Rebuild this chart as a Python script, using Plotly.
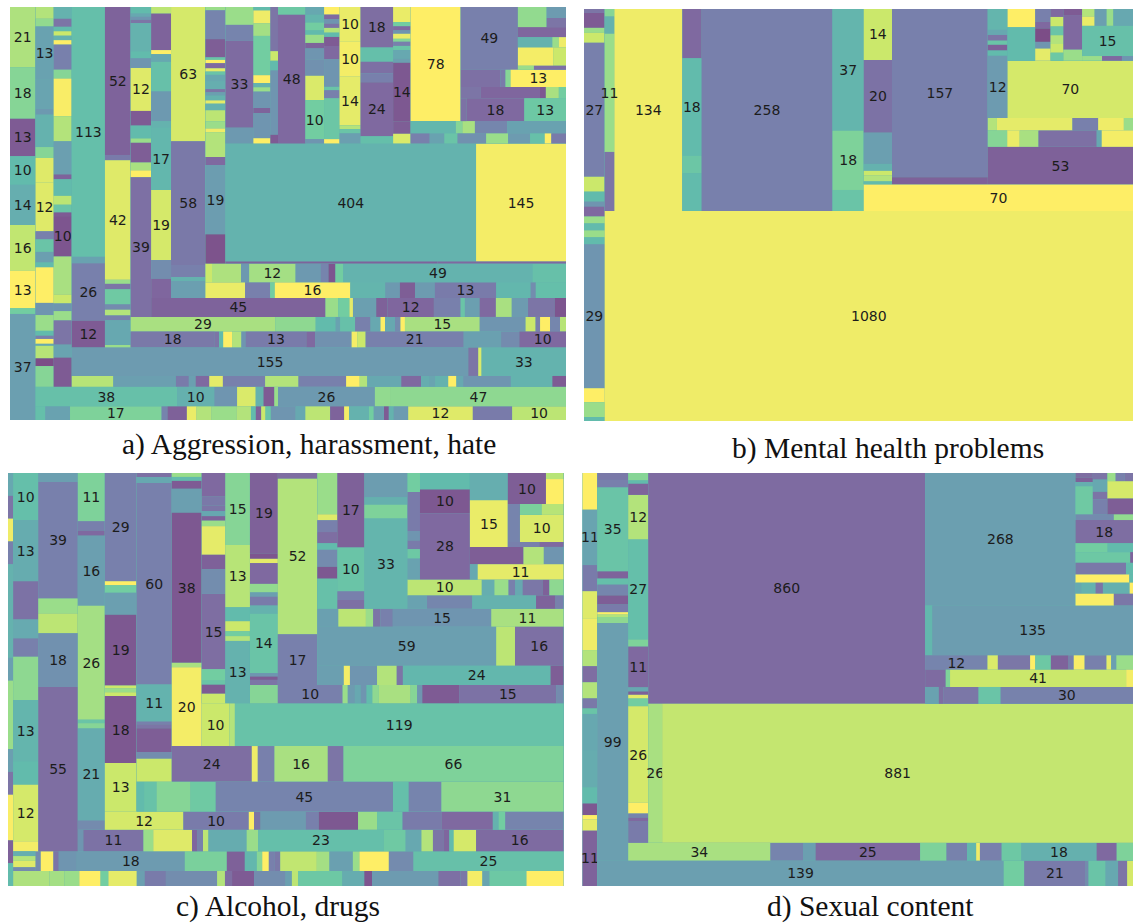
import plotly.graph_objects as go

# Every leaf is (value, colour index on the 0-9 palette). A list holds its
# children; nesting alternates between side-by-side and stacked.
# ---------------- a) Aggression, harassment, hate ----------------
A_COL0 = [(21,7.4),(18,6.5),(13,0.5),(10,5),(14,4.3),(16,7.8),(13,9),(2,6),(37,3.5)]
A_COL1 = [(2.9,7.5),(1.9,6.8),(13,3.7),(7.4,3.8),(1.4,3.2),(8,4.5),(2.7,6.5),(6.1,8.4),(12,8.4),(2,2),(3.1,5.5),(2.6,3.5),(1.2,5),(8.8,9),(3,3),(3.9,7),(1.2,5),(.8,2),(1.2,9),(.5,4),(3.1,7.6),(1.9,0),(5.1,6.5)]
A_COL2 = [(2.9,4.5),(2,1.5),(1.1,5),(1.1,8),(1.1,4.5),(1.1,9),(6.2,2),(2.2,6.5),(9.3,8.9),(6.2,7.5),(8.2,3.5),(1.2,.8),(4.1,5),(2.2,7.7),(1.9,5.5),(.9,.5),(10,.3),(9.4,7.3),(2.2,8),(1.9,3),(2.3,7),(6,1.5),(3.2,3.8),(7.2,.5)]
A_COL113 = [(113,5.2),(3,3.7),(26,2),(12,.5)]
A_COL52 = [(52,.8),(1.9,1.8),(42,8.4),(1.4,7),(1.9,1.5),(5.3,5.8),(1.9,2.5),(2,7.5),(1.7,2),(8.7,4),(.8,7)]
A_COL39 = [(1.8,5),(.9,4),(.9,3),(.9,1.5),(7.9,4.5),(1.9,5),(2.7,3),(12,8.4),(4.1,.5),(3.6,5),(1.2,7),(5.5,.6),(2.2,7.3),(1.9,9),(39,1.3)]
A_COL17 = [(1.8,7.7),(9.9,.8),(1.1,9),(2.1,4),(8,5.3),(8.1,3.2),(1.7,4.5),(17,4.8),(19,8.2),(5.1,2.6),(5.2,.9)]
A_COL63 = [(63,8.2),(58,1.7),(5.6,2),(1.9,4.5),(8,3.5)]
A_COL19 = [(.9,7),(7.9,2.2),(5,.6),(.7,5.5),(.9,9),(1.4,1),(.9,8.5),(.9,5.5),(1.8,4),(2.1,4.3),(.9,1.5),(.9,3.5),(1.3,4.5),(.9,8.5),(1.8,4.5),(3,7.7),(2,7),(1,8.7),(6.8,7.5),(2.2,1),(19,3.4),(8,.2)]
A_COL33 = [(6.8,7),(6.1,2.2),(33,1.1),(6,3.2)]
A_COL_B = [(.8,5),(3,8.7),(2.9,7.2),(9.1,6),(1.8,9),(1,4.5),(1,7),(3.8,3),(1.2,.8),(5.8,3),(1.2,9)]
A_COL_C = [(4.6,1.5),(1,8),(1,5),(6.7,3),(.9,.5)]
A_COL48 = [(2.9,5.7),(48,1)]
A_COL_D = [(2,4),(2,4.7),(2,6),(1.1,5),(2.1,7),(1.4,.8),(2.8,3),(4.2,2.8),(6.2,8.3),(10,6),(1.1,3)]
A_COL_E = [(1.6,9),(1,1),(.9,3),(.9,1.5),(1,7.5),(.9,5),(1.9,.5),(2.8,1),(5.8,3),(.7,5.5),(1.7,2),(8.6,5.6),(.9,9)]
A_COL_F = [(10,8.6),(10,8.8),(14,8.5),(1.1,7.5),(1.2,5.5),(2.9,3.5)]
A_COL_G = [(18,1.2),(6.3,5.2),(5.1,1.3),(4,2),(24,1),(3.2,5.2)]
A_COL_H = [(3.6,8.6),(1,6),(1,1),(.8,3),(1.2,8.6),(.7,6.5),(1,2),(1,5.5),(2.1,4),(.9,3.5),(14,.4),(3,.6),(2.3,8.3)]
A_BLOCK49 = [(49,2),[[(7.9,6.8),[(2.9,3.3),(2.4,1.5)]],(6.6,.9),[(4.8,4.5),(.9,7),(1,8.7)],[(8.8,8.8),(3.2,8)],[(.9,7),(1.8,1.3)]]]
A_ROW_T = [(9.3,1.3),(1.2,1.8),(1.2,6.5),(13,9)]
A_ROW_M = [(3.1,1.5),(9.1,.9),(.9,.4),(2,7.3),(1.1,6)]
A_ROW_L = [(1.8,1.4),(18,1),(13,5.7)]
A_ROW_N = [(7.6,4.8),(1.1,6.5),(2.1,7.3),(5.4,2.3),(9.9,3.7)]
A_ROW_O = [(2.6,2),(2,3.7),(1.8,5.5),(3.9,2.8),(3,7),(3,3.3),(2,5.3),(.9,9),(2,1.8)]
A_ROW_404 = [(404,4.6),(145,8.8)]
A_ROW_THIN = [(5.6,.8),(3.4,1)]
A_ROW12 = [(1.7,8),(7.5,7.4),(2.1,3.2),(12,7.2),(6.5,3.2),(2,2.2),(1.8,.3),(2,6),(49,4.6),(8.6,5.3)]
A_ROW16 = [(8.4,8.6),(5.3,2),(1,6),(16,9),(7.4,4.7),(3.1,3.2),(3.2,.6),(4.2,3.3),(13,1.8),(7.3,4.8),(1.1,2.6),(6.4,5.2)]
A_ROW45 = [(45,.8),(3.3,7),(2.9,6),(.9,8.5),(6,3.5),(2.9,.7),(12,.9),(6.9,2),(1.1,5.5),(3.8,3.5),(4.2,1),(4.1,7.3),(4.2,3.3),(6.9,1.5),(2.9,.3)]
A_ROW29 = [(29,7.3),(8.1,6.7),(4,5),(.9,3.7),(3,5.3),(3.1,2),(2,4),(.9,9),(2,4),(1.1,2.5),(.9,9),(15,7.3),(9.2,3),(2,8),(.9,2),(2,9),(2,2.3),(1.2,7.6)]
A_ROW18 = [(18,1.7),(.9,1.5),(.9,5),(1.9,9),(2,7.5),(.9,3),(13,1.8),(1.9,1),(7.8,2.8),(1.2,8.8),(1.8,8),(21,2),(8,3.6),(3.9,2.5),(10,1)]
A_ROW155 = [(155,3.3),(3.9,1.5),(1.3,8.3),(33,4.6)]
A_STRIP = [(6.1,7.6),(9.2,3.5),(1.9,1.8),(1,3.5),(2,1),(2,8.5),(6.2,2),(4.9,7.5),(7,2),(2,9),(1.1,7.5),(5,4),(2.9,1),(1.2,4.2),(.9,3.8),(1.9,4.5),(1.2,9),(1,4),(7,3),(6.1,4.6),(2,.5)]
A_ROW38 = [(38,5.3),(10,4.4),(6.1,3),(5,8.3),(2.1,4.5),(2.9,.5),(1,7),(26,3.2),(4.3,6.8),(47,6.7)]
A_ROW17 = [(1.8,5.2),(4.6,3.7),(17,6.3),(1.1,2.2),(3.6,.7),(1.8,8.6),(2.8,7.5),(4.6,7),(2.7,7.5),(.9,5),(1,.7),(.8,8),(1,5.5),(4.6,3),(1.8,4),(4.6,7.7),(2.6,.8),(.9,8.8),(3.7,4.5),(.9,6),(1.9,3.5),(.9,.5),(.9,4.5),(2.7,3.3),(12,8.4),(7.3,1.8),(10,7.7)]

A_RIGHT = [[(78,9),[A_BLOCK49,A_ROW_T,A_ROW_M,A_ROW_L]],A_ROW_N,A_ROW_O]
A_U = [A_COL33,A_COL_B,A_COL_C,A_COL48,A_COL_D,A_COL_E,A_COL_F,A_COL_G,A_COL_H,A_RIGHT]
A_T4 = [[A_COL19,[A_U,A_ROW_404,A_ROW_THIN]],A_ROW12,A_ROW16]
A_TOP = [A_COL39,[[A_COL17,A_COL63,A_T4],A_ROW45]]
A_MAIN = [A_COL113,A_COL52,[A_TOP,A_ROW29,A_ROW18]]
PANEL_A = [A_COL0,[[A_COL1,A_COL2,[A_MAIN,A_ROW155,A_STRIP]],A_ROW38,A_ROW17]]

# ---------------- b) Mental health problems ----------------
B_COL0 = [(.8,1.5),(3,.5),(1,7),(2,8),(27,2),(3,8),(2,5),(1,3),(2,1),(1.4,7),(1.4,5),(1.4,7),(1.4,5),(29,3),(2.8,9),(3,7),(.8,5)]
B_COL_A = [(.7,6.5),(1.6,4.5),(11,7),(5.5,1.5)]
B_COL_B = [(9.1,1),(18,5),(3.2,5.6),(7,5)]
B_COL_C = [(37,4.7),(18,6.3),(6.4,5.5)]
B_COL14 = [(14,8),(20,1.4),(8.6,3.5),(1.9,4.5),(1.3,8),(1.6,7.5),(.8,5)]
B_COL157 = [(157,2),(6.5,.7)]
B_COL12 = [(4,4.7),(1,4),(1.1,1.5),(.8,5.5),(1.1,.7),(1,5),(12,3.3)]
B_P1 = [(4.9,9),(9,5)]
B_P2 = [(1.9,2),(1,1),(2,0),(1,3),(1.8,8.5)]
B_P3 = [(1,1),(1.2,8),(1.1,5.5),(1.1,7.5),(1.1,8),(1,5.7)]
B_P4 = [(1.1,.5),(6.3,1),(2,7)]
B_Q_TOP = [[(.9,7.5),(1.1,8.6)],(2,3.5),(1.1,7),(3.2,4)]
B_Q_BOT = [(.9,7),(.9,1),(.5,3)]
B_ROW1 = [(1.1,7.5),(9.1,8.5),(3.1,2),(3.1,8.7),(1.1,7)]
B_ROW2 = [(3.1,6.5),(2,8.6),(3,7.3),(9.3,1.3),(.8,4),(5,8.8)]
B_P = [B_P1,B_P2,B_P3,B_P4,[B_Q_TOP,(15,5.3),B_Q_BOT]]
B_RIGHT = [[B_COL12,[B_P,(70,8.2)]],B_ROW1,B_ROW2,(53,.7)]
B_TOP = [B_COL_A,(134,8.7),B_COL_B,(258,2),B_COL_C,[[B_COL14,B_COL157,B_RIGHT],(70,9)]]
PANEL_B = [B_COL0,[B_TOP,(1080,8.7)]]

# ---------------- c) Alcohol, drugs ----------------
C_COL0 = [(1,4),(1,1.5),(1,8.7),(1,2),(4.1,4.5),(1,3.5),(3,7),(1,3.5),(1,1.5),(2,8.9),(1,.7),(1,5)]
C_COL1 = [(10,5.2),(13,4.2),(8.1,1.4),(4,4.1),(3.9,2),(9.2,6.7),(13,4.7),(5,5),(12,8.2),(2.1,8.8)]
C_COL2 = [(3,3.5),(39,2),(5.1,7),(6.6,7.7),(18,2.8),(55,1.2)]
C_COL77 = [(11,6.3),(2.2,2),(1.1,1),(16,3.5),(26,7.2),(.8,5.5),(1.2,6.5),(21,4.2),(2.1,2.5)]
C_COL105 = [(29,2),(1.1,9),(2,6),(5.9,3.5),(19,.4),(.8,8),(1,7),(1,8),(18,.4),(13,8)]
C_COL137 = [(1.2,1.3),(1.8,4),(60,2),(11,4.6),(.8,2),(1.2,1.5),(7.1,.6),(2,2.6),(6.8,8)]
C_COL171 = [(1,7),(1,5),(2,.5),(6.1,3.5),(38,.4),(1.1,7.3),(20,8.8)]
C_COL202 = [(4.7,1),(1.8,1.7),(1.1,1.5),(1,4),(.9,.8),(1.1,7),(5.7,8.5),(2.9,.7),(4.9,2.6),(15,1.2),(2.3,6),(.8,5.5),(1.8,.5),(1.9,8)]
C_COL225 = [(15,6.5),(13,7.6),(2.9,5),(2.1,8),(1,6),(1,7.5),(13,4.5)]
C_COL250 = [(19,.7),(1.2,.3),(1,8.5),(4.9,1),(2,6.8),(1,3.5),(2.1,1.8),(1.9,4.5),(14,5.5),(.8,3),(.8,.5),(1.2,1.5)]
C_COL278 = [(1.9,1.2),(52,7.5),(17,2)]
C_C317 = [(7,7),(1,8.4),(2,2),(1.9,1.2),(1.1,5),(2.9,2.5),(2,.4),(5.1,5.3)]
C_C337 = [(17,.7),(10,5.5),(2,2),(2,1.3)]
C_C364 = [(8.9,3.4),(2.7,4.4),(5,6.3),(33,4.7)]
C_C402 = [(2,6),(4.1,1.8),(1,3),(.9,1.8),(1,5.7),(2.2,3.7)]
C_C550 = [(7,5),(10,.4),(28,1)]
C_UP1 = [(8.7,4.3),(15,8.6)]
C_UP2 = [[(10,.6),[(.9,7.6),(3.7,9)]],[(3.9,2.2),[[(2,6.2),(2,7.6)],(10,8.3)]],[(1.3,2),(1,1)]]
C_ROW_248 = [(7.9,.6),(3,7.5),(2.9,3)]
C_ROW_300 = [(1,4),(11,8.5)]
C_ROW10B = [(10,7.7),(1.7,4.3),(1.9,7),(.9,2),(1,4),(2.7,1.6),(.9,.7),(1.9,6.7)]
C_ROW393 = [(2.2,3.7),(5.1,2.3),(7.2,4.5),(2.2,.8),(.9,2)]
C_ROW15 = [(3.2,3.6),(4.2,7.7),(1.1,7),(1.1,1.5),(1.9,2),(15,3),(11,7.3)]
C_ROW59 = [(59,3.5),(6.2,7.7),(16,1.3)]
C_ROW24B = [(4.3,3.5),(1,8.8),(4.4,3),(3.2,7.5),(1,1.5),(24,4.8),(2.1,.6)]
C_ROW10 = [(4.3,6.5),(10,2),(.8,7),(1.1,3.3),(.9,4),(.9,3),(.9,5),(1,6.7),(4.9,7.3),(1,6.5),(.8,3),(5.7,.5),(15,1.4),(1.1,2.5)]
C_ROW119 = [(10,8),(2,7.5),(119,5.4)]
C_ROW24 = [(24,1.2),(1.8,8.7),(5,2),(16,7.3),(4.7,1.5),(66,6.3)]
C_ROW45 = [(1.9,5),(3.2,5.4),(8.6,6.5),(6.4,5.8),(45,2.2),(4,5.2),(8.3,2.2),(31,6.7)]
C_ROW12 = [(12,8.2),(10,1.8),(.8,9),(1,1.5),(6.9,3.3),(2,2),(6,.4),(2.9,7),(3.9,5.5),(6,1.8),(7.8,1),(.9,4.5),(1,6),(8.9,2.2)]
C_ROW23 = [(1,3),(11,1.4),(1.8,7),(7.1,8.4),(1,.9),(1,2),(1,7.7),(7,4.2),(2.1,7),(23,5.2),(4,5.8),(2.9,4),(2.1,7.5),(2,1.5),(1,.9),(.8,5),(4.1,8.2),(16,1.1)]
C_ROW18 = [[(.9,4.3),(.9,7.5),(1.2,8.4),(.7,2.5)],(.9,2.5),(2.1,9),(.9,1.5),(3,3),(18,3.3),(7,6.2),(3,.7),(2,4.8),(.9,6.5),(1.1,9),(1,2),(.9,1.7),(6.1,7.8),(2.1,7.2),(3.9,3.6),(1.1,7),(4.9,9),(4.1,2.5),(25,5.3)]
C_ROW_B = [(4.6,7.4),(1.9,7.2),(1.9,7),(2.7,9),(1,6),(3.6,8.5),(1,3.5),(2.7,1.8),(6.5,2.6),(1,7.5),(.9,1.2),(2.8,.5),(4,2.6),(.8,3.5),(.8,7.7),(5.6,5.7),(2.8,4.2),(1,.3),(8.4,3.3),(2.8,1.3),(.9,1.6),(1.9,8.8),(.9,3.8),(4.7,5.7),(4.7,9)]
C_N = [[C_UP1,C_UP2],C_ROW_248,C_ROW_300]
C_L = [C_C317,C_C337,C_C364,[[C_C402,C_C550,C_N],C_ROW10B,C_ROW393]]
C_K = [C_COL250,C_COL278,[C_L,C_ROW15,C_ROW59,C_ROW24B]]
C_G = [[C_COL202,C_COL225,[C_K,C_ROW10]],C_ROW119]
C_B = [[C_COL137,[[C_COL171,C_G],C_ROW24]],C_ROW45]
C_UP = [C_COL77,[[C_COL105,C_B],C_ROW12]]
PANEL_C = [C_COL0,[[C_COL1,C_COL2,[C_UP,C_ROW23]],C_ROW18,C_ROW_B]]

# ---------------- d) Sexual content ----------------
D_COL0 = [(7.3,9),(11,3.8),(5.2,1.8),(5.5,8.4),(6.2,8.7),(3.2,7.5),(3.2,1.2),(3.2,7.5),(2,1.7),(1.1,5.5),(7.3,4),(7.3,4.2),(3.2,5),(2.3,.4),(.9,9),(2.2,8.5),(11,.8)]
D_COL35 = [(2.9,1.7),(3.1,2),(35,5.5),(3,.8),(2.5,5.2),(4.5,2.3),(3.8,.6),(3.2,1.8),(1,9),(1,7.5),(2.5,6.7),(99,3.5)]
D_COL12 = [(2,6.5),(.9,5),(3,.8),(12,7.5),(27,5.2),(1.9,6.3),(11,1),(1.1,4),(.9,.7),(1,8.5),(2.1,6),(26,8.2),(2.9,9),(1.1,2.2),(1.1,1),(5.7,1.8)]
D_C1 = [(1.1,1.2),(1,.7),(1,4.3),(6.5,5.8)]
D_C2 = [(1.3,1.5),(2.4,4),(1.5,1.5),(2.9,2)]
D_C3 = [[(.9,7),(1,2),(.9,1.5)],(6,8.2),(5.4,.6)]
D_BLK = [[D_C1,D_C2,D_C3],[(3,2.5),(1.5,6.8)],(18,1.2),[(3.8,6),(3,5)],[(7.9,5.7),(.4,.8)],[(7.9,1.7),(1.1,5)],[(5.9,9),(.4,5)],[(.9,4),(2.1,4.5),(1.1,1.5),(4,4.4),(.5,9)],[(6,8.9),(3,1.6)]]
D_ROW135 = [(4.8,4.8),(135,3.4)]
D_ROW12 = [(12,2.2),(2,8.3),(6.2,1.6),(1,9),(3,5.7),(3.4,.8),(1,2),(2.1,8.9),(4.2,2),(.9,8.5),(1,3.5),(3.2,7)]
D_ROW41 = [(4.8,1.1),(1,6.3),(41,8),(1.6,8.8)]
D_ROW30 = [(3.1,3.7),(1,1.2),(8,1.6),(5,5.5),(30,2.1)]
D_ROW34 = [(34,7.3),(7.8,2.2),(3,3.5),(25,1),(6.3,6.3),(4.9,2.1),(2.2,4.8),(.9,8.7),(5.2,2),(4.7,5.7),(18,4.4),(4.8,1),(3.9,6.3)]
D_ROW139 = [(139,3.5),(7,6),(21,1.8),(1,2.5),(5.8,5.5),(4.3,4),(3.1,1.5),(2,8.2)]
D_R = [[(268,3.5),D_BLK],D_ROW135,D_ROW12,D_ROW41,D_ROW30]
D_MAIN = [D_COL12,[[(860,1.1),D_R],[(26,7.3),(881,7.85)]]]
PANEL_D = [D_COL0,[[D_COL35,[D_MAIN,D_ROW34]],D_ROW139]]

PANELS = [PANEL_A, PANEL_B, PANEL_C, PANEL_D]
CAPTIONS = ["a) Aggression, harassment, hate", "b) Mental health problems", "c) Alcohol, drugs", "d) Sexual content"]

# ---------------- styling ----------------
W, H = 1133, 923
BOXES = [(10, 566, 7, 420), (584, 1133, 9, 421), (8, 563.5, 473, 886), (582.5, 1133, 473, 886)]
CAPTION_POS = [(309, 445), (888, 448), (277.5, 906), (870, 906)]
VIRIDIS = ["#440154", "#482878", "#3e4989", "#31688e", "#26828e", "#1f9e89", "#35b779", "#6ece58", "#b5de2b", "#fde725"]


def pale(hex_colour, alpha=0.7):
    rgb = [int(hex_colour[i:i + 2], 16) for i in (1, 3, 5)]
    return "rgb(%d,%d,%d)" % tuple(round(alpha * c + (1 - alpha) * 255) for c in rgb)


SCALE = [[i / 9, pale(c)] for i, c in enumerate(VIRIDIS)]


def flatten(tree):
    ids, parents, values, colours, texts = [], [], [], [], []

    def walk(node, parent):
        nid = "n%d" % len(ids)
        ids.append(nid)
        parents.append(parent)
        if isinstance(node, list):
            values.append(0)
            colours.append(4.5)
            texts.append("")
            for child in node:
                walk(child, nid)
        else:
            v, c = node
            values.append(v)
            colours.append(c)
            texts.append(str(v) if v >= 10 else "")

    walk(tree, "")
    return ids, parents, values, colours, texts


fig = go.Figure()
for tree, (x0, x1, y0, y1) in zip(PANELS, BOXES):
    ids, parents, values, colours, texts = flatten(tree)
    fig.add_trace(go.Treemap(
        ids=ids, labels=ids, parents=parents, values=values, text=texts,
        branchvalues="remainder", sort=False, textinfo="text",
        textposition="middle center", hoverinfo="skip",
        textfont=dict(family="DejaVu Sans", size=14, color="#1c1c1c"),
        tiling=dict(packing="slice-dice", pad=0),
        pathbar=dict(visible=False),
        marker=dict(colors=colours, colorscale=SCALE, cmin=0, cmax=9, showscale=False,
                    line=dict(width=0), pad=dict(t=0, b=0, l=0, r=0), depthfade=False),
        domain=dict(x=[x0 / W, x1 / W], y=[1 - y1 / H, 1 - y0 / H]),
    ))

for caption, (cx, cy) in zip(CAPTIONS, CAPTION_POS):
    fig.add_annotation(text=caption, x=cx / W, y=1 - cy / H, xref="paper", yref="paper",
                       showarrow=False, xanchor="center", yanchor="middle",
                       font=dict(family="Liberation Serif", size=29.5, color="#111111"))

fig.update_layout(width=W, height=H, margin=dict(l=0, r=0, t=0, b=0), paper_bgcolor="white",
                  uniformtext=dict(minsize=14, mode="show"))
fig.write_html("out.html", post_script="document.body.style.margin='0';",
               config={"displayModeBar": False})
